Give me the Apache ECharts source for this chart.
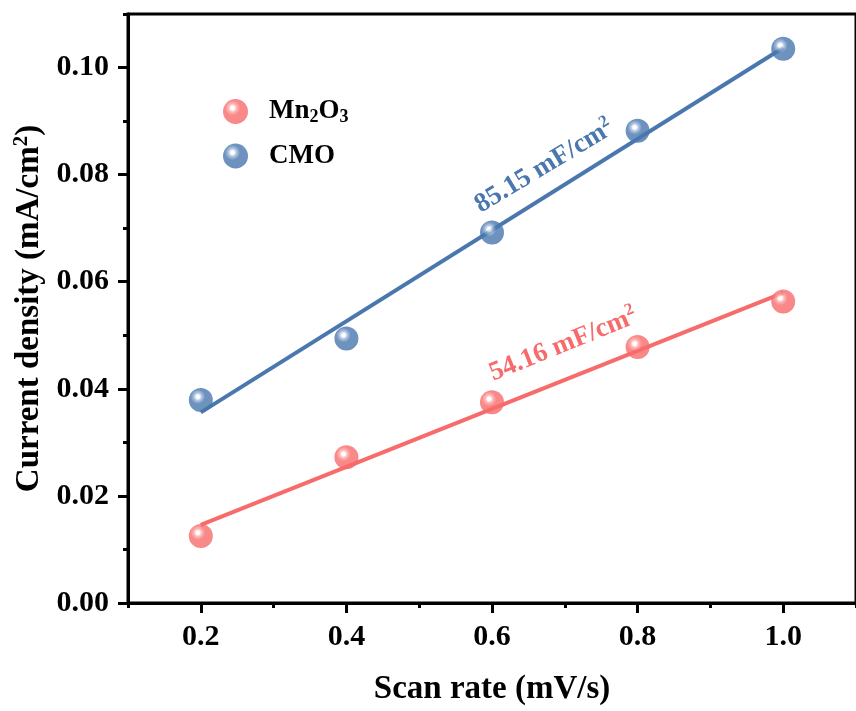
<!DOCTYPE html>
<html>
<head>
<meta charset="utf-8">
<script src="https://cdn.jsdelivr.net/npm/echarts@6/dist/echarts.min.js"></script>
<style>html,body{margin:0;padding:0;background:#fff}#c{width:856px;height:711px}</style>
</head>
<body>
<div id="c"></div>
<script>
const scanRate = [0.2, 0.4, 0.6, 0.8, 1.0];
const mnValues = [0.0125, 0.0272, 0.0375, 0.0478, 0.0563];
const cmoValues = [0.0379, 0.0494, 0.0692, 0.0882, 0.1035];
const mnFit = [[0.2, 0.0146], [1.0, 0.0579]];
const cmoFit = [[0.2, 0.0356], [1.0, 0.1037]];
const xTicks = [0.2, 0.4, 0.6, 0.8, 1.0];
const xMinorTicks = [0.1, 0.3, 0.5, 0.7, 0.9, 1.1];
const yTicks = [0.00, 0.02, 0.04, 0.06, 0.08, 0.10];
const yMinorTicks = [0.01, 0.03, 0.05, 0.07, 0.09, 0.11];
const mnLabel = {pos: [0.698, 0.0482], text: '54.16 mF/cm', rotate: 22};
const cmoLabel = {pos: [0.672, 0.0815], text: '85.15 mF/cm', rotate: 31};

const FONT = '"Times New Roman", "Liberation Serif", serif';
const RED = '#f86b6b', BLUE = '#4a77ae';
function sphere(base, light, dark) {
  return {type: 'radial', x: 0.38, y: 0.36, r: 0.72, colorStops: [
    {offset: 0, color: '#ffffff'}, {offset: 0.1, color: '#ffffff'}, {offset: 0.22, color: light},
    {offset: 0.42, color: base}, {offset: 0.85, color: base}, {offset: 1, color: dark}]};
}
const chart = echarts.init(document.getElementById('c'));
const xBase = {type: 'value', min: 0.1, max: 1.1, position: 'bottom', splitLine: {show: false}};
const yBase = {type: 'value', min: 0, max: 0.11, position: 'left', splitLine: {show: false}};
const labelRich = {
  n: {fontFamily: FONT, fontWeight: 'bold', fontSize: 27},
  sup: {fontFamily: FONT, fontWeight: 'bold', fontSize: 17, verticalAlign: 'top', padding: [0, 0, 15, 0]}
};
function pt(arrX, arrY) { return arrX.map((x, i) => [x, arrY[i]]); }
chart.setOption({
  animation: false,
  grid: {left: 128, top: 14, right: -5, bottom: 107, show: true, borderColor: '#000', borderWidth: 3},
  legend: {
    orient: 'vertical', left: 218, top: 93, itemGap: 16, itemWidth: 25, itemHeight: 25, icon: 'circle',
    data: ['Mn2O3', 'CMO'],
    formatter: n => n === 'Mn2O3' ? '{n|Mn}{s|2}{n|O}{s|3}' : '{n|CMO}',
    textStyle: {padding: [0, 0, 0, 16], rich: {
      n: {fontFamily: FONT, fontWeight: 'bold', fontSize: 27, color: '#000'},
      s: {fontFamily: FONT, fontWeight: 'bold', fontSize: 18, color: '#000', verticalAlign: 'bottom', padding: [12, 0, 0, 0]}
    }}
  },
  xAxis: [
    Object.assign({}, xBase, {
      name: 'Scan rate (mV/s)', nameLocation: 'middle', nameGap: 70,
      nameTextStyle: {fontFamily: FONT, fontWeight: 'bold', fontSize: 33, color: '#000'},
      axisLine: {lineStyle: {color: '#000', width: 3}},
      axisTick: {customValues: xTicks, length: 10, lineStyle: {color: '#000', width: 3}},
      axisLabel: {customValues: xTicks, margin: 19, fontFamily: FONT, fontWeight: 'bold', fontSize: 30, color: '#000',
        formatter: v => v.toFixed(1)}
    }),
    Object.assign({}, xBase, {
      axisLine: {show: false},
      axisTick: {customValues: xMinorTicks, length: 5, lineStyle: {color: '#000', width: 3}},
      axisLabel: {show: false}
    })
  ],
  yAxis: [
    Object.assign({}, yBase, {
      name: 'Current density (mA/cm{sup|2})', nameLocation: 'middle', nameGap: 79,
      nameTextStyle: {fontFamily: FONT, fontWeight: 'bold', fontSize: 33, color: '#000',
        rich: {sup: {fontFamily: FONT, fontWeight: 'bold', fontSize: 21, color: '#000', verticalAlign: 'top', padding: [0, 0, 16, 0]}}},
      axisLine: {lineStyle: {color: '#000', width: 3}},
      axisTick: {customValues: yTicks, length: 10, lineStyle: {color: '#000', width: 3}},
      axisLabel: {customValues: yTicks, margin: 19, fontFamily: FONT, fontWeight: 'bold', fontSize: 30, color: '#000',
        formatter: v => v.toFixed(2)}
    }),
    Object.assign({}, yBase, {
      axisLine: {show: false},
      axisTick: {customValues: yMinorTicks, length: 5, lineStyle: {color: '#000', width: 3}},
      axisLabel: {show: false}
    })
  ],
  series: [
    {name: 'Mn2O3 fit', type: 'line', data: mnFit, showSymbol: false, symbol: 'none', z: 2,
      lineStyle: {color: RED, width: 4}, silent: true,
      markPoint: {symbol: 'circle', symbolSize: 0, data: [{coord: mnLabel.pos}],
        label: {show: true, position: 'inside', rotate: mnLabel.rotate, color: RED,
          formatter: '{n|' + mnLabel.text + '}{sup|2}', rich: labelRich}}},
    {name: 'CMO fit', type: 'line', data: cmoFit, showSymbol: false, symbol: 'none', z: 2,
      lineStyle: {color: BLUE, width: 4}, silent: true,
      markPoint: {symbol: 'circle', symbolSize: 0, data: [{coord: cmoLabel.pos}],
        label: {show: true, position: 'inside', rotate: cmoLabel.rotate, color: BLUE,
          formatter: '{n|' + cmoLabel.text + '}{sup|2}', rich: labelRich}}},
    {name: 'Mn2O3', type: 'scatter', data: pt(scanRate, mnValues), symbolSize: 24, z: 5,
      itemStyle: {color: sphere(RED, '#fca9a9', '#e95b5b')}},
    {name: 'CMO', type: 'scatter', data: pt(scanRate, cmoValues), symbolSize: 24, z: 5,
      itemStyle: {color: sphere(BLUE, '#9fb8da', '#3b6395')}}
  ]
});
</script>
</body>
</html>
